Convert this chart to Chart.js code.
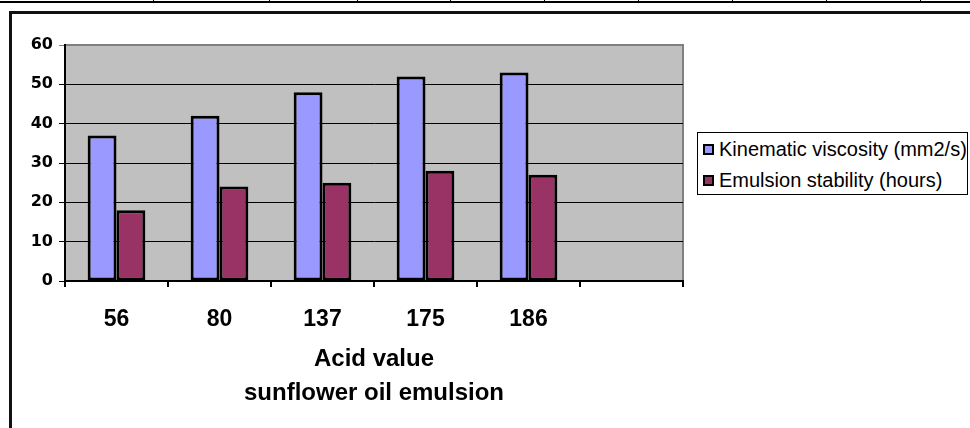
<!DOCTYPE html>
<html>
<head>
<meta charset="utf-8">
<script src="https://cdn.jsdelivr.net/npm/chart.js@4"></script>
<style>
  body { margin: 0; background: #fff; }
  #wrap { position: relative; width: 970px; height: 428px; overflow: hidden; }
  #topline { position: absolute; left: 0; top: 1px; width: 970px; height: 2px; background: #000; }
  .tick { position: absolute; top: 0; width: 1px; height: 3px; background: #000; }
  #frame { position: absolute; left: 9px; top: 11px; width: 980px; height: 440px;
           border-left: 3px solid #111; border-top: 3px solid #111; }
  canvas { position: absolute; left: 0; top: 0; }
  #legend { position: absolute; left: 697px; top: 132px; width: 269px; height: 61px;
            border: 1px solid #000; font-family: "Liberation Sans", Arial, sans-serif;
            font-size: 20px; line-height: 22px; color: #000; background: #fff; }
  .item { position: absolute; left: 5px; display: flex; align-items: center; white-space: nowrap; }
  .sw { width: 7px; height: 7px; border: 2px solid #000; margin-right: 5px; }
</style>
</head>
<body>
<div id="wrap">
  <div id="topline"></div>
  <div id="frame"></div>
  <canvas id="chart" width="970" height="428"></canvas>
  <div id="legend"></div>
</div>
<script>
// Data
const categories = ["56", "80", "137", "175", "186", ""];
const kinematicViscosity = [37, 42, 48, 52, 53, null];
const emulsionStability = [18, 24, 25, 28, 27, null];
const seriesNames = ["Kinematic viscosity (mm2/s)", "Emulsion stability (hours)"];
const seriesColors = ["#9999FF", "#993366"];
const axisTitle = ["Acid value", "sunflower oil emulsion"];

// Table border ticks above the frame
[153, 269, 357, 450, 544, 638, 732, 826, 920].forEach((x) => {
  const d = document.createElement("div");
  d.className = "tick";
  d.style.left = x + "px";
  document.getElementById("wrap").appendChild(d);
});

// Legend
const legend = document.getElementById("legend");
seriesNames.forEach((name, i) => {
  const item = document.createElement("div");
  item.className = "item";
  item.style.top = (i === 0 ? 5 : 36) + "px";
  item.innerHTML = `<span class="sw" style="background:${seriesColors[i]}"></span><span>${name}</span>`;
  legend.appendChild(item);
});

// Gray plot background with gray top/right border
const plotBackground = {
  id: "plotBackground",
  beforeDraw(chart) {
    const { ctx, chartArea: a } = chart;
    ctx.save();
    ctx.fillStyle = "#C0C0C0";
    ctx.fillRect(a.left, a.top, a.right - a.left, a.bottom - a.top);
    ctx.strokeStyle = "#808080";
    ctx.lineWidth = 2;
    ctx.beginPath();
    ctx.moveTo(a.left, a.top);
    ctx.lineTo(a.right, a.top);
    ctx.lineTo(a.right, a.bottom);
    ctx.stroke();
    ctx.restore();
  },
};

const font = "'Liberation Sans', Arial, sans-serif";

new Chart(document.getElementById("chart"), {
  type: "bar",
  data: {
    labels: categories,
    datasets: [
      {
        label: seriesNames[0],
        data: kinematicViscosity,
        backgroundColor: seriesColors[0],
        borderColor: "#000",
        borderWidth: 3,
        borderSkipped: false,
      },
      {
        label: seriesNames[1],
        data: emulsionStability,
        backgroundColor: seriesColors[1],
        borderColor: "#000",
        borderWidth: 3,
        borderSkipped: false,
      },
    ],
  },
  options: {
    responsive: false,
    animation: false,
    layout: { padding: { top: 45, right: 287, bottom: 0, left: 0 } },
    datasets: { bar: { barPercentage: 1, categoryPercentage: 0.56 } },
    plugins: { legend: { display: false }, tooltip: { enabled: false } },
    scales: {
      x: {
        afterFit: (s) => { s.height = 147; },
        grid: { drawOnChartArea: false, drawTicks: true, tickLength: 6, color: "#000", lineWidth: 2 },
        border: { color: "#000", width: 2 },
        ticks: { color: "#000", padding: 19, font: { family: font, size: 23, weight: "bold" } },
        title: {
          display: true,
          text: axisTitle,
          color: "#000",
          font: { family: font, size: 24, weight: "bold", lineHeight: 1.417 },
          padding: { top: 0, bottom: 18 },
        },
      },
      y: {
        min: 0,
        max: 60,
        afterFit: (s) => { s.width = 65; },
        grid: {
          color: (c) => (c.tick && c.tick.value === 60 ? "#808080" : "#000"),
          lineWidth: 1,
          tickLength: 6,
        },
        border: { color: "#000", width: 2 },
        ticks: {
          stepSize: 10,
          color: "#000",
          padding: 6,
          font: { family: "'DejaVu Sans', sans-serif", size: 16, weight: "bold" },
        },
      },
    },
  },
  plugins: [plotBackground],
});
</script>
</body>
</html>
